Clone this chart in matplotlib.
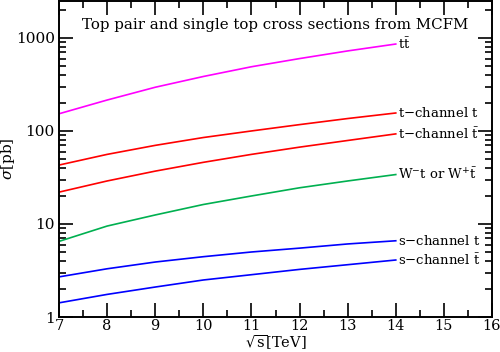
import matplotlib
matplotlib.use('Agg')
import matplotlib.pyplot as plt
from matplotlib.ticker import MultipleLocator, LogLocator, NullFormatter, FixedLocator
import numpy as np

plt.rcParams['font.family'] = 'DejaVu Serif'
plt.rcParams['mathtext.fontset'] = 'dejavuserif'

# collider energy in TeV
energy = [7, 8, 9, 10, 11, 12, 13, 14]

# cross sections in pb
ttbar = [153, 215, 295, 385, 490, 600, 725, 860]
tchan_t = [43, 56, 70, 85, 100, 117, 136, 156]
tchan_tbar = [22, 29, 37, 46, 56, 67, 79, 93]
wt = [6.5, 9.5, 12.5, 16.2, 20, 24.5, 29, 34]
schan_t = [2.7, 3.3, 3.9, 4.45, 5.0, 5.5, 6.1, 6.6]
schan_tbar = [1.42, 1.75, 2.1, 2.5, 2.85, 3.25, 3.65, 4.1]

labels = [r'$\mathrm{t\bar{t}}$', r't$-$channel t', r't$-$channel $\mathrm{\bar{t}}$',
          r'$\mathrm{W^{-}t}$ or $\mathrm{W^{+}\bar{t}}$', r's$-$channel t', r's$-$channel $\mathrm{\bar{t}}$']
series = [ttbar, tchan_t, tchan_tbar, wt, schan_t, schan_tbar]
colours = ['#ff00ff', '#ff0000', '#ff0000', '#00b050', '#0000ff', '#0000ff']

fig = plt.figure(figsize=(5, 3.52), dpi=100)
ax = fig.add_axes([0.118, 0.0994, 0.866, 0.898])

for vals, lab, col in zip(series, labels, colours):
    ax.plot(energy, vals, color=col, lw=1.2)
    ax.text(energy[-1] + 0.05, vals[-1], lab, fontsize=9.5, ha='left', va='center')

ax.set_yscale('log')
ax.set_xlim(7, 16)
ax.set_ylim(1, 2500)

ax.xaxis.set_major_locator(MultipleLocator(1))
ax.xaxis.set_minor_locator(MultipleLocator(0.5))
ax.yaxis.set_major_locator(FixedLocator([1, 10, 100, 1000]))
ax.yaxis.set_minor_locator(LogLocator(base=10, subs=np.arange(2, 10)))
ax.yaxis.set_minor_formatter(NullFormatter())
ax.set_yticklabels(['1', '10', '100', '1000'])

ax.tick_params(which='both', direction='in', top=True, right=True, labelsize=11, width=1.2)
ax.tick_params(which='major', length=10, pad=3)
ax.tick_params(axis='x', which='major', pad=1.5, labelsize=10.5)
ax.tick_params(which='minor', length=5)
for s in ax.spines.values():
    s.set_linewidth(1.4)

ax.set_xlabel(r'$\sqrt{\rm s}$[TeV]', fontsize=10.5)
ax.xaxis.set_label_coords(0.5, -0.053)
ax.set_ylabel(r'$\sigma$[pb]', fontsize=11)
ax.yaxis.set_label_coords(-0.097, 0.5)
ax.text(0.5, 0.924, 'Top pair and single top cross sections from MCFM',
        transform=ax.transAxes, ha='center', va='center', fontsize=10.8)

fig.savefig('out.png', dpi=100)
